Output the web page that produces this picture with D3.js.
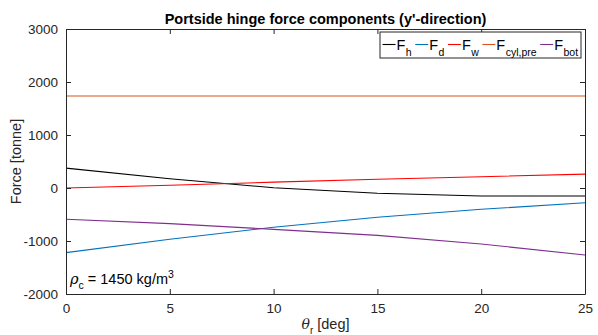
<!DOCTYPE html>
<html>
<head>
<meta charset="utf-8">
<script src="https://cdn.jsdelivr.net/npm/d3@7/dist/d3.min.js"></script>
<style>
  html, body { margin: 0; padding: 0; background: #fff; }
  svg { display: block; font-family: "Liberation Sans", Arial, Helvetica, sans-serif; }
</style>
</head>
<body>
<svg id="chart" width="598" height="335"></svg>
<script>
// Roll angle samples [deg]
const theta = [0, 5, 10, 15, 20, 25];

// Hinge force components in y'-direction [tonne]
const Fh   = [375, 175, 5, -100, -150, -150];
const Fd   = [-1220, -968, -740, -553, -402, -277];
const Fw   = [0, 51, 110, 164, 213, 262];
const Fcyl = [1735, 1735, 1735, 1735, 1735, 1735];
const Fbot = [-591, -673, -780, -893, -1057, -1264];

const xTicks = [0, 5, 10, 15, 20, 25];
const yTicks = [-2000, -1000, 0, 1000, 2000, 3000];

const seriesNames = ["h", "d", "w", "cyl,pre", "bot"];
const seriesData = [Fh, Fd, Fw, Fcyl, Fbot];
const seriesColors = ["#000000", "#0072BD", "#FF0000", "#D95319", "#7E2F8E"];

const svg = d3.select("#chart");
const margin = { left: 66, right: 13, top: 29, bottom: 41 };
const W = 598, H = 335;
const x = d3.scaleLinear().domain([0, 25]).range([margin.left, W - margin.right]);
const y = d3.scaleLinear().domain([-2000, 3000]).range([H - margin.bottom, margin.top]);

const axisColor = "#262626";
const tickLen = 5;

// Data lines
const line = d3.line().x((d, i) => x(theta[i])).y(d => y(d));
seriesData.forEach((s, k) => {
  svg.append("path")
    .datum(s)
    .attr("d", line)
    .attr("fill", "none")
    .attr("stroke", seriesColors[k])
    .attr("stroke-width", 1.1);
});

// Axes (box with inward ticks on all four sides)
const gx = svg.append("g").attr("transform", `translate(0,${y(-2000)})`)
  .call(d3.axisBottom(x).tickValues(xTicks).tickSizeInner(-tickLen).tickSizeOuter(0).tickPadding(9));
const gxt = svg.append("g").attr("transform", `translate(0,${y(3000)})`)
  .call(d3.axisTop(x).tickValues(xTicks).tickSizeInner(-tickLen).tickSizeOuter(0).tickFormat(""));
const gy = svg.append("g").attr("transform", `translate(${x(0)},0)`)
  .call(d3.axisLeft(y).tickValues(yTicks).tickSizeInner(-tickLen).tickSizeOuter(0).tickPadding(8));
const gyr = svg.append("g").attr("transform", `translate(${x(25)},0)`)
  .call(d3.axisRight(y).tickValues(yTicks).tickSizeInner(-tickLen).tickSizeOuter(0).tickFormat(""));

[gx, gxt, gy, gyr].forEach(g => {
  g.select(".domain").attr("stroke", axisColor).attr("stroke-width", 1);
  g.selectAll(".tick line").attr("stroke", axisColor).attr("stroke-width", 1);
  g.selectAll(".tick text").attr("fill", axisColor).attr("font-size", 13.5)
    .attr("font-family", "'Liberation Sans', Arial, sans-serif");
});
gy.selectAll(".tick text").text(d => d < 0 ? "-" + Math.abs(d) : d);

// Title
svg.append("text")
  .attr("x", (x(0) + x(25)) / 2).attr("y", 24)
  .attr("text-anchor", "middle").attr("font-weight", "bold").attr("font-size", 14.5)
  .attr("fill", "#000")
  .text("Portside hinge force components (y'-direction)");

// Y axis label
svg.append("text")
  .attr("transform", `translate(21,${(y(3000) + y(-2000)) / 2}) rotate(-90)`)
  .attr("text-anchor", "middle").attr("font-size", 14.5).attr("fill", axisColor)
  .text("Force [tonne]");

// X axis label
const xl = svg.append("text")
  .attr("x", (x(0) + x(25)) / 2).attr("y", 329)
  .attr("text-anchor", "middle").attr("font-size", 14.5).attr("fill", axisColor);
xl.append("tspan").attr("font-style", "italic").attr("font-family", "'DejaVu Serif', serif").attr("font-size", 14).text("θ");
xl.append("tspan").attr("font-size", 10).attr("dy", 5).text("r");
xl.append("tspan").attr("dy", -5).text(" [deg]");

// Density annotation
const ann = svg.append("text").attr("x", 70).attr("y", 284).attr("font-size", 14.5).attr("fill", "#000");
ann.append("tspan").attr("font-style", "italic").attr("font-family", "'DejaVu Serif', serif").text("ρ");
ann.append("tspan").attr("font-size", 10.5).attr("dy", 5).text("c");
ann.append("tspan").attr("dy", -5).text(" = 1450 kg/m");
ann.append("tspan").attr("font-size", 10.5).attr("dy", -6).text("3");

// Legend
const legX0 = 380, legY0 = 32, legW = 201, legH = 26;
const legG = svg.append("g");
legG.append("rect")
  .attr("x", legX0).attr("y", legY0).attr("width", legW).attr("height", legH)
  .attr("fill", "#fff").attr("stroke", axisColor).attr("stroke-width", 1);
let cx = legX0 + 2.5;
const lineY = 44.5, baseY = 49.5;
seriesNames.forEach((name, k) => {
  legG.append("line")
    .attr("x1", cx).attr("x2", cx + 13).attr("y1", lineY).attr("y2", lineY)
    .attr("stroke", seriesColors[k]).attr("stroke-width", 1.1);
  cx += 14;
  const t = legG.append("text").attr("x", cx).attr("y", baseY).attr("font-size", 14.5).attr("fill", "#000");
  t.append("tspan").text("F");
  t.append("tspan").attr("font-size", 10.5).attr("dy", 6).attr("dx", 0.5).text(name);
  cx += t.node().getComputedTextLength() + 4;
});
</script>
</body>
</html>
